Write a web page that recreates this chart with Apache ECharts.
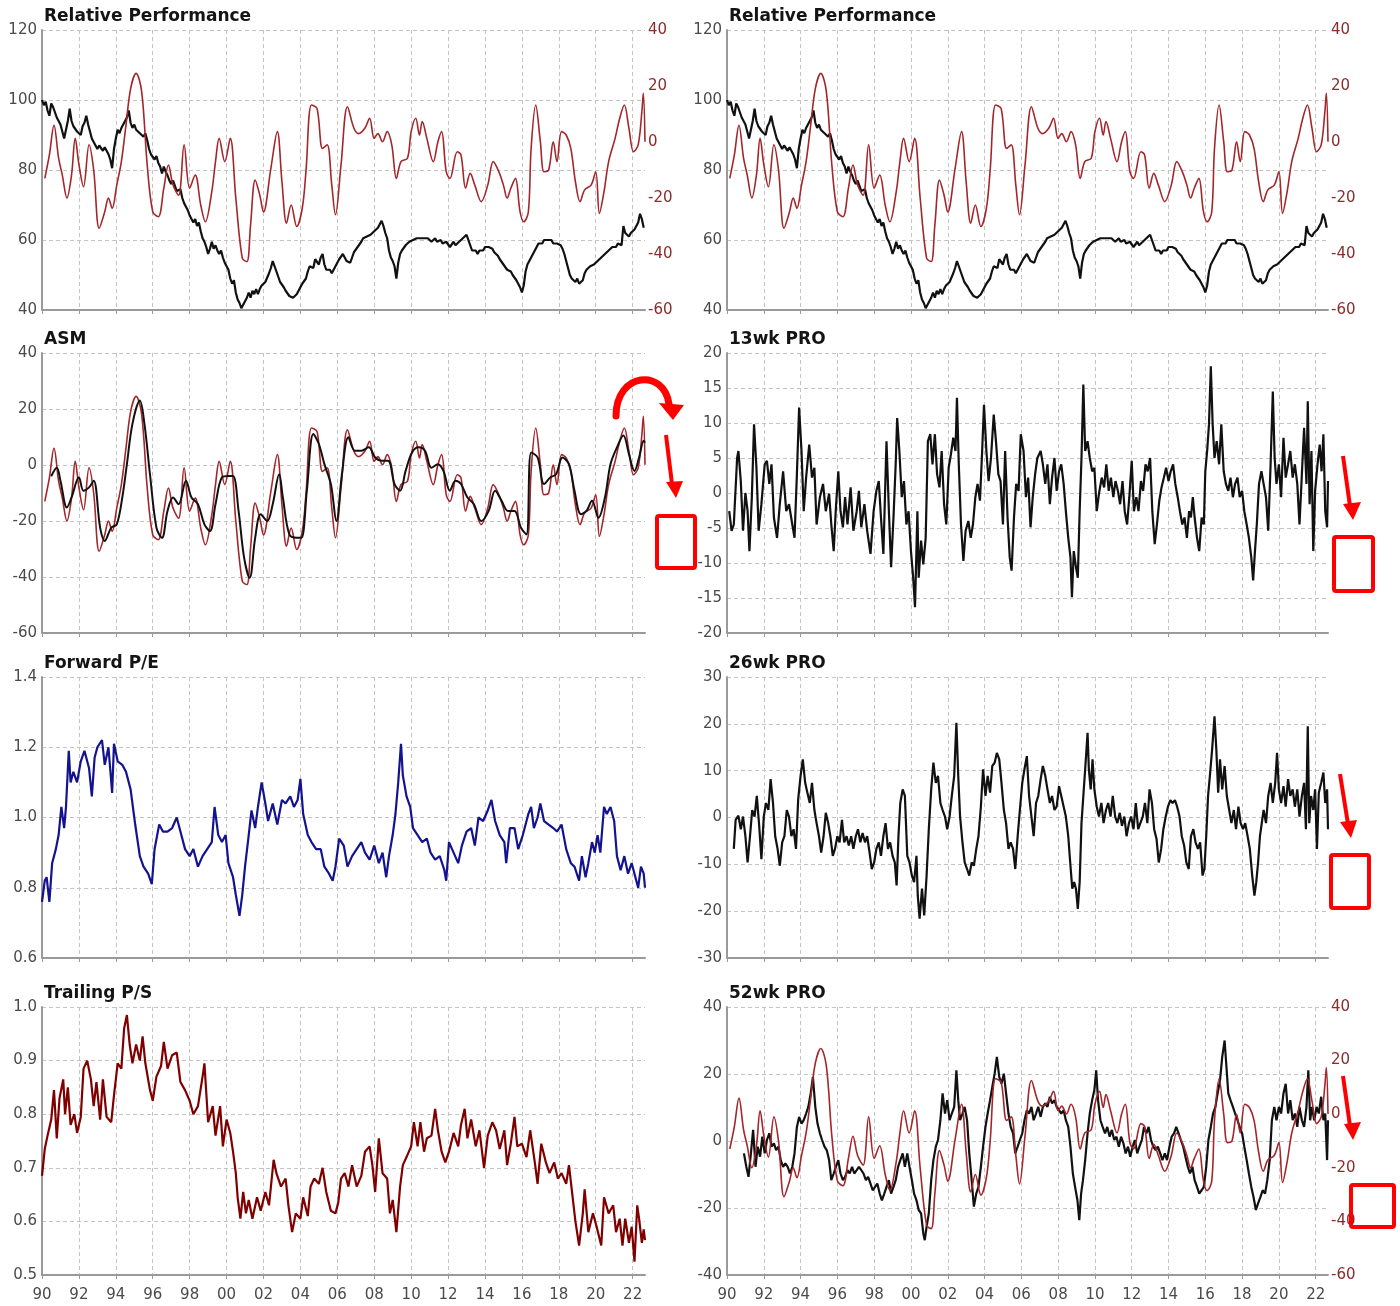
<!DOCTYPE html>
<html>
<head>
<meta charset="utf-8">
<title>Relative Performance dashboard</title>
<script src="https://cdn.jsdelivr.net/npm/echarts@6/dist/echarts.min.js"></script>
<style>
  html, body { margin: 0; padding: 0; background: #ffffff; }
  #chart { width: 1400px; height: 1306px; }
</style>
</head>
<body>
<div id="chart"></div>
<script>
// ---------------------------------------------------------------------------
// Time range and tick labels (decimal years)
// ---------------------------------------------------------------------------
const yearMin = 1990;
const yearMax = 2022.67;
const yearTicks = [1990, 1992, 1994, 1996, 1998, 2000, 2002, 2004, 2006, 2008,
                   2010, 2012, 2014, 2016, 2018, 2020, 2022];

const panelTitles = ['Relative Performance', 'Relative Performance', 'ASM', '13wk PRO',
                     'Forward P/E', '26wk PRO', 'Trailing P/S', '52wk PRO'];

// ---------------------------------------------------------------------------
// Relative performance index (weekly, sampled every 0.1 year from 1990.0)
// ---------------------------------------------------------------------------
const relPerfStart = 1990;
const relPerfStep = 0.1;
const relPerf = [
  100, 98.5, 99.5, 97, 95.5, 99, 98, 96.5, 95, 94,
  93, 91, 89, 88.5, 94, 97.5, 94, 92.5, 93, 91,
  91.5, 90, 92.5, 93.5, 95.5, 93, 91, 89, 88, 87.5,
  86, 87, 86.5, 85.5, 86.5, 85.5, 84.5, 83, 80.5, 86,
  89, 91.5, 90.5, 92, 91.5, 94, 95, 97, 93.5, 92,
  93, 91.5, 92, 90.5, 91, 89.5, 90.5, 88.5, 86, 84.5,
  85, 83, 84, 82, 81, 79, 81, 79.5, 78.5, 77,
  76, 77, 75.5, 74, 73.5, 74.5, 72, 70.5, 70, 68.5,
  67, 66, 65, 66, 64, 65, 62.5, 60.5, 59.5, 58,
  56, 57.5, 59.5, 57.5, 58.5, 57, 56, 57, 55, 53.5,
  52.5, 51.5, 49, 47.5, 48.5, 45, 43, 42, 40.5, 41.5,
  41, 43.5, 45, 43.5, 45.5, 44.5, 46, 44.5, 46, 47,
  46.5, 48, 48.5, 50.5, 52, 54, 52.5, 51, 49.5, 48,
  47.5, 46.5, 45.5, 45, 44, 43.5, 43.5, 44, 44.5, 45.5,
  46, 47.5, 48, 49, 51, 52.5, 53, 52, 54.5, 54,
  53, 55, 56, 53, 51.5, 51, 51.5, 50.5, 51, 52.5,
  53, 54.5, 55, 56, 55, 54, 54.5, 53.5, 55, 56.5,
  57, 58, 58.5, 59.5, 60.5, 60, 61, 60.5, 61.5, 62,
  62.5, 63, 63.5, 64.5, 65.5, 64, 62, 60.5, 57, 55,
  54, 52.5, 49, 53.5, 56, 57, 57.5, 58.5, 58, 59.5,
  59, 60, 59.5, 60.5, 60, 60.5, 60, 60.5, 60, 60.5,
  60, 59.5, 60, 60.5, 59.5, 59, 60, 59, 58.5, 59.5,
  59, 58, 58.5, 59.5, 58.5, 59, 59.5, 60, 60.5, 61,
  61.5, 60, 58.5, 57, 56.5, 57, 56, 57, 57.5, 57,
  58, 58.5, 58, 58.5, 57.5, 56.5, 56, 55.5, 54.5, 54,
  53, 52.5, 51.5, 52, 51, 50, 49.5, 48.5, 47.5, 46.5,
  45, 47, 51, 53, 53.5, 55, 55.5, 57, 58, 59,
  59.5, 59, 60, 59.5, 60, 59.5, 60, 59, 59.5, 59,
  59.5, 58.5, 57.5, 56, 54, 52, 50, 49, 48.5, 48,
  49, 47.5, 47, 48.5, 50.5, 51.5, 52, 52.5, 52, 53,
  53.5, 54, 54.5, 55, 55.5, 56, 56.5, 57, 57.5, 58,
  58.5, 58, 59, 59.5, 58.5, 64, 62, 61.5, 61, 62,
  62.5, 63, 63.5, 65, 67.5, 66, 63.5
];

// Relative performance momentum (red line, shared by several panels)
const relMomentum = [
  [1990.15,-13],[1990.4,-4.6],[1990.65,6],[1990.9,-5.8],[1991.1,-11.8],[1991.35,-20],
  [1991.6,-11.8],[1991.8,1.3],[1992.0,-8],[1992.25,-16],[1992.55,-1],[1992.8,-10],
  [1993.1,-30.8],[1993.4,-24.9],[1993.6,-20],[1993.8,-23.7],[1994.05,-15.4],[1994.3,-7],
  [1994.55,6],[1994.8,19],[1995.1,24.5],[1995.4,18],[1995.7,-8.2],[1996.0,-24.9],
  [1996.3,-26.7],[1996.6,-16.5],[1996.85,-8.2],[1997.1,-15.4],[1997.4,-19],[1997.7,-1],
  [1998.0,-16.5],[1998.3,-11.8],[1998.6,-22.5],[1998.85,-28.5],[1999.2,-17.7],[1999.4,-7],
  [1999.6,1.3],[1999.9,-7],[2000.2,1.3],[2000.5,-20],[2000.85,-41.5],[2001.1,-42.7],
  [2001.3,-29.6],[2001.55,-13.6],[2001.8,-19],[2002.0,-25],[2002.4,-9.4],[2002.75,3.7],
  [2003.0,-14.2],[2003.25,-29],[2003.5,-22.5],[2003.8,-30.2],[2004.1,-23.7],[2004.3,-10.6],
  [2004.6,13.2],[2004.9,12],[2005.2,-2.3],[2005.45,-1],[2005.7,-15.4],[2005.9,-26],
  [2006.2,-8.2],[2006.55,12.6],[2006.9,4.9],[2007.15,3],[2007.5,5],[2007.75,8.5],
  [2008.0,1.3],[2008.2,3],[2008.45,0.1],[2008.7,3.7],[2008.95,-1],[2009.2,-13],
  [2009.45,-7],[2009.8,-5.8],[2010.0,3.7],[2010.25,8.5],[2010.45,2.5],[2010.6,7.3],
  [2010.85,1.3],[2011.2,-7],[2011.45,0.1],[2011.65,3.7],[2011.9,-10.6],[2012.1,-13],
  [2012.5,-3.5],[2012.7,-4.6],[2012.95,-16.5],[2013.2,-11.2],[2013.45,-15.4],[2013.8,-21.3],
  [2014.15,-15.4],[2014.45,-7],[2014.75,-10.6],[2015.0,-15.4],[2015.2,-20],[2015.4,-16.5],
  [2015.65,-13],[2015.9,-24.9],[2016.1,-28.5],[2016.35,-25],[2016.5,-2.3],[2016.75,13.2],
  [2017.0,0.1],[2017.2,-10.6],[2017.45,-10],[2017.7,0.1],[2017.9,-7],[2018.15,3.7],
  [2018.4,2.5],[2018.65,-2.3],[2018.9,-14.2],[2019.15,-21.3],[2019.4,-17.1],[2019.75,-15.4],
  [2020.0,-10.6],[2020.2,-25.5],[2020.45,-17.7],[2020.7,-7],[2021.05,1.3],[2021.3,8.5],
  [2021.55,13.2],[2021.8,4.9],[2022.05,-3.5],[2022.3,-1],[2022.5,10.8],[2022.58,17.4],
  [2022.67,0.1]
];

// ASM (black, smoother)
const asm = [
  [1990.5,-4],[1990.8,-1],[1991.0,-5.6],[1991.35,-15.2],[1991.6,-11.6],[1992.0,-4.4],
  [1992.25,-9.2],[1992.55,-8],[1992.8,-5.6],[1993.15,-22.4],[1993.4,-27.1],[1993.75,-22.4],
  [1994.05,-21.2],[1994.35,-11.6],[1994.6,0.3],[1994.9,14.7],[1995.3,23],[1995.55,14.7],
  [1995.85,-3.3],[1996.2,-22.4],[1996.5,-26],[1996.8,-16.4],[1997.1,-11.6],[1997.4,-14],
  [1997.8,-5.6],[1998.1,-11.6],[1998.45,-14],[1998.8,-21.2],[1999.1,-23.6],[1999.4,-14],
  [1999.75,-4.4],[2000.1,-3.9],[2000.35,-3.9],[2000.65,-16.4],[2000.95,-33.1],[2001.25,-40.3],
  [2001.55,-26],[2001.85,-17.6],[2002.2,-20],[2002.5,-14],[2002.85,-3.3],[2003.05,-11.6],
  [2003.4,-24.8],[2003.8,-26],[2004.05,-26],[2004.35,-9.2],[2004.7,11.1],[2005.0,7.5],
  [2005.3,0.3],[2005.65,-6.8],[2005.95,-20],[2006.25,-3.3],[2006.6,9.9],[2006.95,5.1],
  [2007.3,5.1],[2007.7,6.3],[2008.05,2.7],[2008.4,1.5],[2008.75,1.5],[2009.1,-6.8],
  [2009.4,-9.2],[2009.7,-2.1],[2010.05,4.5],[2010.4,6.3],[2010.75,5.1],[2011.1,-1],
  [2011.45,0.3],[2011.75,-2.1],[2012.1,-9.2],[2012.4,-5.6],[2012.7,-6.8],[2013.05,-11.6],
  [2013.4,-14],[2013.8,-20],[2014.2,-16.4],[2014.55,-9.2],[2014.9,-12.8],[2015.25,-16.4],
  [2015.6,-16.4],[2015.95,-22.4],[2016.25,-24.8],[2016.5,4.5],[2016.85,2.7],[2017.2,-6.8],
  [2017.55,-4.4],[2017.85,-3.3],[2018.2,2.7],[2018.55,0.3],[2018.85,-9.2],[2019.2,-17.6],
  [2019.5,-16.4],[2019.8,-12.8],[2020.15,-18.8],[2020.5,-11.6],[2020.8,0.3],[2021.15,6.3],
  [2021.5,10.5],[2021.8,3.9],[2022.1,-2.1],[2022.35,2.7],[2022.6,8.7],[2022.67,8]
];

// Forward P/E (relative)
const forwardPE = [
  [1990.0,0.76],[1990.15,0.82],[1990.25,0.83],[1990.4,0.76],[1990.55,0.87],[1990.75,0.91],
  [1990.9,0.95],[1991.05,1.03],[1991.2,0.97],[1991.3,1.03],[1991.45,1.19],[1991.55,1.10],
  [1991.7,1.13],[1991.9,1.10],[1992.1,1.16],[1992.3,1.19],[1992.55,1.14],[1992.7,1.06],
  [1992.85,1.17],[1993.0,1.20],[1993.25,1.22],[1993.4,1.15],[1993.6,1.20],[1993.8,1.07],
  [1993.9,1.21],[1994.1,1.16],[1994.35,1.15],[1994.55,1.13],[1994.8,1.08],[1995.05,0.98],
  [1995.3,0.89],[1995.5,0.86],[1995.75,0.84],[1995.95,0.81],[1996.1,0.91],[1996.35,0.98],
  [1996.55,0.96],[1996.8,0.96],[1997.05,0.97],[1997.3,1.00],[1997.5,0.96],[1997.75,0.91],
  [1998.0,0.89],[1998.2,0.91],[1998.45,0.86],[1998.7,0.89],[1998.95,0.91],[1999.2,0.93],
  [1999.35,1.03],[1999.55,0.95],[1999.75,0.93],[1999.95,0.95],[2000.1,0.87],[2000.35,0.83],
  [2000.5,0.78],[2000.7,0.72],[2000.85,0.78],[2001.0,0.86],[2001.2,0.95],[2001.35,1.02],
  [2001.55,0.97],[2001.7,1.03],[2001.9,1.10],[2002.1,1.04],[2002.25,0.99],[2002.5,1.04],
  [2002.75,0.98],[2003.0,1.05],[2003.2,1.04],[2003.45,1.06],[2003.65,1.03],[2003.85,1.05],
  [2004.0,1.11],[2004.15,1.01],[2004.4,0.95],[2004.6,0.93],[2004.85,0.91],[2005.1,0.91],
  [2005.3,0.86],[2005.55,0.84],[2005.75,0.82],[2005.9,0.86],[2006.1,0.94],[2006.35,0.92],
  [2006.55,0.86],[2006.8,0.89],[2007.05,0.91],[2007.3,0.93],[2007.5,0.90],[2007.75,0.88],
  [2008.0,0.92],[2008.25,0.87],[2008.45,0.90],[2008.65,0.83],[2008.8,0.89],[2009.0,0.95],
  [2009.15,1.01],[2009.3,1.10],[2009.45,1.21],[2009.55,1.12],[2009.75,1.06],[2009.95,1.03],
  [2010.1,0.97],[2010.35,0.95],[2010.6,0.93],[2010.85,0.94],[2011.05,0.90],[2011.3,0.88],
  [2011.55,0.89],[2011.8,0.85],[2011.9,0.82],[2012.05,0.93],[2012.3,0.90],[2012.55,0.87],
  [2012.75,0.92],[2013.0,0.96],[2013.25,0.97],[2013.45,0.92],[2013.65,1.00],[2013.9,0.99],
  [2014.15,1.02],[2014.35,1.05],[2014.55,0.99],[2014.8,0.95],[2015.05,0.93],[2015.15,0.87],
  [2015.35,0.97],[2015.6,0.97],[2015.8,0.91],[2016.05,0.95],[2016.35,1.01],[2016.5,1.03],
  [2016.65,0.97],[2016.85,1.00],[2017.0,1.04],[2017.2,0.99],[2017.45,0.98],[2017.7,0.97],
  [2017.9,0.96],[2018.15,0.98],[2018.4,0.91],[2018.65,0.87],[2018.85,0.86],[2019.1,0.82],
  [2019.25,0.89],[2019.45,0.83],[2019.6,0.87],[2019.8,0.93],[2019.95,0.90],[2020.1,0.95],
  [2020.25,0.90],[2020.45,1.03],[2020.6,1.01],[2020.8,1.03],[2021.0,0.99],[2021.15,0.89],
  [2021.35,0.85],[2021.55,0.89],[2021.75,0.84],[2021.95,0.87],[2022.15,0.83],[2022.3,0.80],
  [2022.45,0.86],[2022.6,0.84],[2022.67,0.80]
];

// Trailing P/S (relative)
const trailingPS = [
  [1990.0,0.685],[1990.15,0.735],[1990.3,0.76],[1990.5,0.79],[1990.65,0.845],[1990.8,0.755],
  [1990.95,0.83],[1991.15,0.865],[1991.25,0.80],[1991.4,0.85],[1991.55,0.78],[1991.75,0.80],
  [1991.9,0.765],[1992.1,0.795],[1992.25,0.885],[1992.45,0.90],[1992.65,0.865],[1992.8,0.815],
  [1992.95,0.86],[1993.15,0.79],[1993.3,0.865],[1993.5,0.795],[1993.75,0.785],[1993.9,0.835],
  [1994.1,0.895],[1994.3,0.885],[1994.45,0.96],[1994.6,0.985],[1994.75,0.93],[1994.9,0.895],
  [1995.1,0.93],[1995.3,0.90],[1995.45,0.945],[1995.6,0.895],[1995.85,0.845],[1996.0,0.825],
  [1996.2,0.87],[1996.45,0.89],[1996.6,0.935],[1996.8,0.885],[1997.05,0.91],[1997.3,0.915],
  [1997.5,0.86],[1997.75,0.845],[1998.0,0.825],[1998.2,0.80],[1998.45,0.815],[1998.7,0.87],
  [1998.8,0.895],[1999.0,0.785],[1999.25,0.815],[1999.4,0.76],[1999.65,0.815],[1999.8,0.74],
  [2000.0,0.79],[2000.2,0.765],[2000.35,0.73],[2000.5,0.69],[2000.6,0.645],[2000.75,0.605],
  [2000.9,0.655],[2001.05,0.615],[2001.2,0.64],[2001.4,0.605],[2001.65,0.645],[2001.85,0.62],
  [2002.1,0.655],[2002.3,0.63],[2002.55,0.715],[2002.7,0.69],[2002.95,0.665],[2003.2,0.68],
  [2003.35,0.63],[2003.55,0.58],[2003.75,0.615],[2004.0,0.605],[2004.15,0.645],[2004.4,0.61],
  [2004.55,0.665],[2004.75,0.68],[2005.0,0.67],[2005.2,0.70],[2005.4,0.655],[2005.65,0.62],
  [2005.9,0.615],[2006.05,0.635],[2006.2,0.68],[2006.4,0.69],[2006.6,0.665],[2006.8,0.705],
  [2007.05,0.665],[2007.3,0.685],[2007.5,0.73],[2007.75,0.74],[2007.9,0.705],[2008.05,0.655],
  [2008.25,0.755],[2008.45,0.69],[2008.7,0.68],[2008.85,0.615],[2009.0,0.64],[2009.2,0.58],
  [2009.4,0.665],[2009.55,0.705],[2009.75,0.72],[2010.0,0.74],[2010.15,0.785],[2010.35,0.74],
  [2010.5,0.785],[2010.7,0.73],[2010.85,0.755],[2011.1,0.76],[2011.3,0.81],[2011.45,0.77],
  [2011.65,0.73],[2011.85,0.71],[2012.05,0.73],[2012.3,0.765],[2012.55,0.74],[2012.7,0.78],
  [2012.9,0.81],[2013.05,0.755],[2013.25,0.79],[2013.5,0.74],[2013.7,0.77],[2013.95,0.70],
  [2014.15,0.76],[2014.4,0.785],[2014.6,0.77],[2014.8,0.735],[2015.05,0.77],[2015.2,0.705],
  [2015.4,0.745],[2015.6,0.795],[2015.75,0.74],[2016.0,0.745],[2016.25,0.72],[2016.45,0.77],
  [2016.7,0.71],[2016.85,0.67],[2017.05,0.745],[2017.3,0.71],[2017.5,0.69],[2017.75,0.71],
  [2017.95,0.68],[2018.15,0.69],[2018.4,0.67],[2018.55,0.705],[2018.75,0.645],[2018.9,0.60],
  [2019.1,0.555],[2019.3,0.615],[2019.4,0.66],[2019.6,0.58],[2019.85,0.615],[2020.05,0.59],
  [2020.3,0.555],[2020.45,0.645],[2020.7,0.615],[2020.95,0.63],[2021.1,0.58],[2021.3,0.605],
  [2021.45,0.555],[2021.6,0.605],[2021.8,0.56],[2021.95,0.59],[2022.1,0.525],[2022.25,0.63],
  [2022.35,0.605],[2022.5,0.56],[2022.6,0.585],[2022.67,0.565]
];

// 13-week PRO
const pro13 = [
  [1990.12,-2.6],[1990.25,-5.4],[1990.37,-4.5],[1990.55,5],[1990.62,6],[1990.75,1.7],[1990.87,-5.4],
  [1991.0,0],[1991.12,-2.6],[1991.22,-8.3],[1991.35,-0.6],[1991.47,9.8],[1991.6,3.6],[1991.72,-5.4],
  [1991.87,-1.6],[1992.05,4.1],[1992.17,4.6],[1992.3,1.3],[1992.42,4.1],[1992.55,-3.5],[1992.72,-6.4],
  [1992.87,-1.6],[1993.05,3.1],[1993.22,-2.6],[1993.37,-1.6],[1993.55,-4.5],[1993.67,-6.4],[1993.8,2.7],
  [1993.92,12.2],[1994.05,6],[1994.17,-2.6],[1994.3,2.2],[1994.47,6.9],[1994.62,2.2],[1994.75,3.6],
  [1994.87,-4.5],[1995.05,-0.6],[1995.22,1.3],[1995.37,-2.6],[1995.55,-0.1],[1995.67,-4.5],[1995.8,-8.3],
  [1995.92,-2.1],[1996.05,3.1],[1996.17,-2.6],[1996.3,-4.9],[1996.42,-0.6],[1996.55,-4.5],[1996.72,0.8],
  [1996.87,-5.4],[1997.05,-2.6],[1997.17,0.3],[1997.3,-4.9],[1997.47,-1.6],[1997.62,-5.4],[1997.8,-8.7],
  [1997.97,-2.6],[1998.12,0.3],[1998.25,1.7],[1998.37,-3.5],[1998.5,-8.7],[1998.67,7.4],[1998.8,-2.6],
  [1998.92,-10.6],[1999.05,-3.5],[1999.17,4.1],[1999.25,10.7],[1999.37,6],[1999.5,-0.6],[1999.62,1.7],
  [1999.75,-4.5],[1999.87,-2.6],[2000.0,-8.3],[2000.12,-12.1],[2000.22,-16.3],[2000.35,-2.6],[2000.42,-12.1],
  [2000.55,-6.8],[2000.67,-10.2],[2000.8,-6.4],[2000.92,7.4],[2001.05,8.4],[2001.17,4.1],[2001.3,8.4],
  [2001.42,2.7],[2001.55,0.8],[2001.67,6],[2001.8,-1.6],[2001.92,-4.5],[2002.05,3.6],[2002.17,5.5],
  [2002.3,7.9],[2002.42,6],[2002.5,13.6],[2002.6,4.1],[2002.72,-4.5],[2002.85,-9.7],[2002.97,-5.4],
  [2003.12,-4],[2003.25,-6.4],[2003.37,-4.5],[2003.5,-0.6],[2003.62,1.3],[2003.75,-1.1],[2003.87,6],
  [2003.97,12.6],[2004.1,6],[2004.22,1.7],[2004.35,5],[2004.5,11.2],[2004.62,7.4],[2004.75,2.7],
  [2004.87,1.7],[2005.0,-4.5],[2005.12,6],[2005.25,-3.5],[2005.37,-9.2],[2005.47,-11.1],[2005.6,-3.5],
  [2005.72,1.3],[2005.85,0.3],[2005.97,8.4],[2006.12,6],[2006.25,-0.6],[2006.37,2.2],[2006.5,-4.9],
  [2006.62,-0.6],[2006.75,2.7],[2006.87,5],[2007.05,6],[2007.17,4.1],[2007.3,1.3],[2007.42,4.1],
  [2007.55,-1.6],[2007.67,2.2],[2007.8,5],[2007.92,0.3],[2008.05,3.1],[2008.17,4.1],[2008.3,1.3],
  [2008.42,-2.6],[2008.55,-6.4],[2008.67,-9.2],[2008.75,-14.9],[2008.85,-8.3],[2008.97,-10.6],[2009.07,-12.1],
  [2009.17,-2.6],[2009.27,5],[2009.37,15.5],[2009.47,6],[2009.6,7.4],[2009.72,5],[2009.85,3.1],
  [2009.97,3.6],[2010.1,-2.6],[2010.22,-0.1],[2010.37,2.2],[2010.5,0.8],[2010.62,4.1],[2010.75,0.3],
  [2010.87,2.2],[2011.0,-0.6],[2011.12,1.7],[2011.25,0.3],[2011.37,-1.6],[2011.5,1.7],[2011.62,-2.6],
  [2011.75,-4.5],[2011.87,-0.6],[2012.0,4.6],[2012.12,-2.6],[2012.25,-0.6],[2012.37,-2.6],[2012.5,1.7],
  [2012.62,0.3],[2012.75,4.1],[2012.87,3.1],[2013.0,5],[2013.12,-2.6],[2013.25,-7.3],[2013.37,-4.5],
  [2013.5,-1.1],[2013.62,0.8],[2013.75,2.2],[2013.87,3.6],[2014.0,1.7],[2014.12,3.1],[2014.25,4.1],
  [2014.37,1.3],[2014.5,-0.6],[2014.62,-2.6],[2014.75,-4.5],[2014.87,-3.5],[2015.0,-6.4],[2015.12,-2.6],
  [2015.22,-3.5],[2015.32,-0.6],[2015.42,-3.5],[2015.55,-6.4],[2015.67,-8.3],[2015.8,-3.5],[2015.92,-4.5],
  [2016.0,3.1],[2016.1,6],[2016.2,9.8],[2016.3,18.1],[2016.4,9.8],[2016.5,5],[2016.62,7.4],
  [2016.75,4.1],[2016.87,9.8],[2017.0,3.1],[2017.12,1.3],[2017.25,0.3],[2017.37,2.2],[2017.5,-0.6],
  [2017.62,1.3],[2017.75,2.2],[2017.87,-0.6],[2018.0,0.3],[2018.12,-2.6],[2018.25,-4.5],[2018.37,-6.4],
  [2018.5,-9.2],[2018.6,-12.5],[2018.7,-8.3],[2018.8,-4.5],[2018.92,1.3],[2019.05,3.1],[2019.17,1.3],
  [2019.3,-0.6],[2019.42,-5.4],[2019.55,4.1],[2019.67,14.5],[2019.77,5],[2019.87,1.3],[2020.0,4.1],
  [2020.12,-0.6],[2020.25,7.9],[2020.37,2.2],[2020.5,4.1],[2020.62,6],[2020.75,2.2],[2020.87,4.1],
  [2021.0,1.3],[2021.12,-4.5],[2021.25,2.7],[2021.37,9.3],[2021.5,1.3],[2021.57,13.1],[2021.67,-1.6],
  [2021.77,6],[2021.87,-8.3],[2021.97,0.3],[2022.1,4.1],[2022.22,6.9],[2022.32,3.1],[2022.42,8.4],
  [2022.52,-2.6],[2022.62,-4.9],[2022.67,1.7]
];

// 26-week PRO
const pro26 = [
  [1990.37,-6.7],[1990.47,-0.5],[1990.62,0.4],[1990.75,-2.5],[1990.87,0.2],[1991.0,-4],[1991.12,-9.6],
  [1991.25,-4],[1991.37,1.6],[1991.5,0.2],[1991.62,4.6],[1991.75,-1.8],[1991.87,-8.9],[1992.0,0.2],
  [1992.12,3.1],[1992.25,1.6],[1992.37,8.2],[1992.5,3.1],[1992.62,-4],[1992.75,-6.7],[1992.87,-10.3],
  [1993.0,-5.3],[1993.12,-4],[1993.25,1.6],[1993.37,0.2],[1993.5,-4],[1993.62,-2.5],[1993.75,-6.7],
  [1993.87,3.9],[1994.0,8.9],[1994.12,12.4],[1994.25,7.4],[1994.37,5.3],[1994.5,3.1],[1994.62,7.4],
  [1994.75,1.6],[1994.87,-1.2],[1995.0,-4],[1995.12,-7.5],[1995.25,-4],[1995.37,1],[1995.5,-1.2],
  [1995.62,-4],[1995.75,-8.2],[1995.87,-6.7],[1996.0,-4],[1996.12,-5.3],[1996.25,-0.5],[1996.37,-5.3],
  [1996.5,-4],[1996.62,-6],[1996.75,-4],[1996.87,-6.7],[1997.0,-4],[1997.12,-2.5],[1997.25,-5.3],
  [1997.37,-3.3],[1997.5,-5.3],[1997.62,-4],[1997.75,-7.5],[1997.87,-11],[1998.0,-9.6],[1998.12,-6.7],
  [1998.25,-5.3],[1998.37,-8.2],[1998.5,-4],[1998.62,-1.2],[1998.75,-6.7],[1998.87,-5.3],[1999.0,-8.2],
  [1999.12,-9.6],[1999.22,-14.5],[1999.32,-4],[1999.42,3.1],[1999.55,6],[1999.67,4.6],[1999.8,-8.2],
  [1999.92,-9.6],[2000.05,-12.4],[2000.17,-13.8],[2000.3,-8.2],[2000.37,-16.7],[2000.47,-21.6],[2000.6,-15.2],
  [2000.72,-20.9],[2000.85,-12.4],[2000.97,-2.5],[2001.1,6],[2001.22,11.7],[2001.35,7.4],[2001.47,8.9],
  [2001.6,3.1],[2001.72,1.6],[2001.85,0.2],[2001.97,-2.5],[2002.1,0.2],[2002.22,4.6],[2002.35,8.9],
  [2002.47,20.2],[2002.57,8.9],[2002.67,0.2],[2002.8,-5.3],[2002.92,-9.6],[2003.05,-11],[2003.17,-12.4],
  [2003.3,-9.6],[2003.42,-10.3],[2003.55,-6.7],[2003.67,-4],[2003.8,2.3],[2003.92,10.3],[2004.05,4.6],
  [2004.17,8.9],[2004.3,5.3],[2004.42,11],[2004.55,11.7],[2004.67,13.8],[2004.8,12.4],[2004.92,7.4],
  [2005.05,1.6],[2005.17,-1.2],[2005.3,-6.7],[2005.42,-5.3],[2005.55,-6.7],[2005.67,-11],[2005.8,-4],
  [2005.92,1.6],[2006.05,7.4],[2006.17,10.3],[2006.3,13.1],[2006.42,4.6],[2006.55,0.2],[2006.67,-4],
  [2006.8,3.1],[2006.92,4.6],[2007.05,8.2],[2007.17,11],[2007.3,8.9],[2007.42,6],[2007.55,3.1],
  [2007.67,4.6],[2007.8,1.6],[2007.92,2.3],[2008.05,6.7],[2008.17,4.6],[2008.3,2.3],[2008.42,0.2],
  [2008.55,-4],[2008.67,-10.3],[2008.77,-15.2],[2008.87,-13.8],[2008.97,-15.2],[2009.07,-19.5],[2009.17,-13.8],
  [2009.27,-1.2],[2009.37,4.6],[2009.47,10.3],[2009.6,18.1],[2009.67,10.3],[2009.77,6],[2009.87,12.4],
  [2009.97,6],[2010.1,2.3],[2010.22,0.2],[2010.35,3.1],[2010.47,-1.2],[2010.6,1.6],[2010.72,3.1],
  [2010.85,0.2],[2010.97,4.6],[2011.1,0.2],[2011.22,-1.2],[2011.35,1],[2011.47,-1.8],[2011.6,0.2],
  [2011.72,-4],[2011.85,-1.2],[2011.97,0.2],[2012.1,-2.5],[2012.22,3.1],[2012.35,-2.5],[2012.47,-1.2],
  [2012.6,0.2],[2012.72,3.1],[2012.85,-1.2],[2012.97,6],[2013.1,3.1],[2013.22,-2.5],[2013.35,-4.6],
  [2013.47,-9.6],[2013.6,-6.7],[2013.72,-2.5],[2013.85,0.2],[2013.97,2.3],[2014.1,3.7],[2014.22,3.1],
  [2014.35,3.7],[2014.47,2.3],[2014.6,0.2],[2014.72,-4],[2014.85,-6],[2014.97,-9.6],[2015.1,-11],
  [2015.22,-4],[2015.35,-2.5],[2015.47,-5.3],[2015.6,-6.7],[2015.72,-5.3],[2015.85,-12.4],[2015.95,-11],
  [2016.05,-4],[2016.15,4.6],[2016.25,8.9],[2016.37,14.5],[2016.5,21.6],[2016.6,14.5],[2016.7,5.3],
  [2016.8,12.4],[2016.92,6],[2017.05,11],[2017.17,4.6],[2017.3,1.6],[2017.42,-1.2],[2017.55,1.6],
  [2017.67,-2.5],[2017.8,2.3],[2017.92,-1.2],[2018.05,-2.5],[2018.17,-1.2],[2018.3,-4],[2018.42,-6.7],
  [2018.55,-12.4],[2018.67,-16.7],[2018.77,-13.8],[2018.87,-9.6],[2018.97,-4],[2019.07,-1.2],[2019.17,1.6],
  [2019.3,-1.2],[2019.42,4.6],[2019.55,7.4],[2019.67,3.1],[2019.8,7.4],[2019.9,13.8],[2020.0,6],
  [2020.12,3.1],[2020.25,6.7],[2020.37,2.3],[2020.5,8.2],[2020.62,4.6],[2020.75,6],[2020.87,2.3],
  [2021.0,6],[2021.12,0.2],[2021.25,4.6],[2021.37,7.4],[2021.47,-2.5],[2021.57,19.5],[2021.65,-1.2],
  [2021.75,4.6],[2021.87,1.6],[2021.97,6],[2022.07,-6.7],[2022.17,5.3],[2022.3,7.4],[2022.42,9.6],
  [2022.52,3.1],[2022.62,6],[2022.67,-2.5]
];

// 52-week PRO
const pro52 = [
  [1990.92,-3.7],[1991.05,-7.7],[1991.17,-10.7],[1991.3,-3.7],[1991.42,3.3],[1991.55,-7.7],[1991.67,-1.7],
  [1991.8,-4.7],[1991.92,1.3],[1992.05,-3.7],[1992.17,0.3],[1992.3,2.3],[1992.42,-1.7],[1992.55,-0.7],
  [1992.67,-2.7],[1992.8,-1.7],[1992.92,-5.7],[1993.05,-7.7],[1993.17,-6.7],[1993.3,-7.7],[1993.42,-9.7],
  [1993.55,-7.7],[1993.67,-3.7],[1993.8,4.2],[1993.92,7.2],[1994.05,5.2],[1994.17,6.2],[1994.3,8.2],
  [1994.42,10.2],[1994.55,14.2],[1994.67,19.1],[1994.8,10.2],[1994.92,5.2],[1995.05,2.3],[1995.17,0.3],
  [1995.3,-1.7],[1995.42,-2.7],[1995.55,-5.7],[1995.67,-11.7],[1995.8,-9.7],[1995.92,-7.7],[1996.05,-5.7],
  [1996.17,-9.7],[1996.3,-11.7],[1996.42,-10.7],[1996.55,-8.7],[1996.67,-9.7],[1996.8,-7.7],[1996.92,-9.7],
  [1997.05,-8.7],[1997.17,-7.7],[1997.3,-8.7],[1997.42,-9.7],[1997.55,-11.7],[1997.67,-10.7],[1997.8,-12.7],
  [1997.92,-14.7],[1998.05,-13.7],[1998.17,-12.7],[1998.3,-15.7],[1998.42,-17.7],[1998.55,-15.7],[1998.67,-13.7],
  [1998.8,-11.7],[1998.92,-15.7],[1999.05,-13.7],[1999.17,-11.7],[1999.3,-7.7],[1999.42,-5.7],[1999.55,-3.7],
  [1999.67,-7.7],[1999.8,-3.7],[1999.92,-7.7],[2000.05,-11.7],[2000.17,-15.7],[2000.3,-17.7],[2000.42,-20.6],
  [2000.55,-21.6],[2000.67,-27.6],[2000.75,-29.6],[2000.85,-25.6],[2000.97,-21.6],[2001.1,-11.7],[2001.22,-5.7],
  [2001.35,-1.7],[2001.47,0.3],[2001.6,6.2],[2001.72,14.2],[2001.85,8.2],[2001.97,12.2],[2002.1,6.2],
  [2002.22,8.2],[2002.35,10.2],[2002.47,21.1],[2002.57,12.2],[2002.67,6.2],[2002.8,8.2],[2002.92,10.2],
  [2003.05,6.2],[2003.17,-3.7],[2003.3,-11.7],[2003.42,-19.6],[2003.55,-15.7],[2003.67,-13.7],[2003.8,-7.7],
  [2003.92,-1.7],[2004.05,4.2],[2004.17,8.2],[2004.3,12.2],[2004.42,16.1],[2004.55,20.1],[2004.67,25.1],
  [2004.8,19.1],[2004.92,17.1],[2005.05,20.1],[2005.17,14.2],[2005.3,8.2],[2005.42,4.2],[2005.55,2.3],
  [2005.67,-3.7],[2005.8,-1.7],[2005.92,0.3],[2006.05,2.3],[2006.17,6.2],[2006.3,9.2],[2006.42,8.2],
  [2006.55,10.2],[2006.67,6.2],[2006.8,8.2],[2006.92,10.2],[2007.05,7.2],[2007.17,10.2],[2007.3,11.2],
  [2007.42,10.2],[2007.55,13.2],[2007.67,11.2],[2007.8,12.2],[2007.92,10.2],[2008.05,9.2],[2008.17,8.2],
  [2008.3,9.2],[2008.42,6.2],[2008.55,4.2],[2008.67,-1.7],[2008.8,-9.7],[2008.92,-13.7],[2009.05,-17.7],
  [2009.15,-23.6],[2009.25,-15.7],[2009.35,-11.7],[2009.47,-5.7],[2009.6,2.3],[2009.72,8.2],[2009.85,12.2],
  [2009.97,15.2],[2010.07,21.1],[2010.17,12.2],[2010.3,6.2],[2010.42,4.2],[2010.55,2.3],[2010.67,4.2],
  [2010.8,1.3],[2010.92,3.3],[2011.05,0.3],[2011.17,1.3],[2011.3,-1.7],[2011.42,1.3],[2011.55,-0.7],
  [2011.67,-3.7],[2011.8,-1.7],[2011.92,-4.7],[2012.05,-1.7],[2012.17,0.3],[2012.3,-3.7],[2012.42,-1.7],
  [2012.55,0.3],[2012.67,4.2],[2012.8,2.3],[2012.92,4.2],[2013.05,0.3],[2013.17,-1.7],[2013.3,-2.7],
  [2013.42,-1.7],[2013.55,-3.7],[2013.67,-5.7],[2013.8,-3.7],[2013.92,-5.7],[2014.05,-1.7],[2014.17,1.3],
  [2014.3,2.3],[2014.42,4.2],[2014.55,2.3],[2014.67,0.3],[2014.8,-1.7],[2014.92,-4.7],[2015.05,-7.7],
  [2015.17,-9.7],[2015.3,-7.7],[2015.42,-11.7],[2015.55,-13.7],[2015.67,-15.7],[2015.8,-14.7],[2015.92,-13.7],
  [2016.05,-7.7],[2016.17,0.3],[2016.3,4.2],[2016.42,8.2],[2016.55,10.2],[2016.67,14.2],[2016.8,18.1],
  [2016.92,25.1],[2017.05,30],[2017.15,22.1],[2017.25,14.2],[2017.37,12.2],[2017.5,10.2],[2017.62,8.2],
  [2017.75,6.2],[2017.87,4.2],[2018.0,2.3],[2018.12,-1.7],[2018.25,-5.7],[2018.37,-9.7],[2018.5,-13.7],
  [2018.62,-16.7],[2018.75,-20.6],[2018.87,-18.6],[2019.0,-16.7],[2019.12,-14.7],[2019.25,-15.7],[2019.37,-11.7],
  [2019.5,-5.7],[2019.62,6.2],[2019.75,10.2],[2019.87,6.2],[2020.0,10.2],[2020.12,8.2],[2020.25,14.2],
  [2020.37,17.1],[2020.5,8.2],[2020.62,12.2],[2020.75,6.2],[2020.87,8.2],[2021.0,4.2],[2021.12,10.2],
  [2021.25,6.2],[2021.37,4.2],[2021.5,10.2],[2021.6,21.1],[2021.7,6.2],[2021.8,10.2],[2021.92,6.2],
  [2022.05,10.2],[2022.17,8.2],[2022.3,13.2],[2022.42,6.2],[2022.52,8.2],[2022.62,-5.7],[2022.67,6.2]
];

// ---------------------------------------------------------------------------
// Build the chart
// ---------------------------------------------------------------------------
const FONT = '"DejaVu Sans", "Noto Sans", sans-serif';
const LABEL_GREY = '#4a4a4a';
const LABEL_MAROON = '#8b2b2b';
const RED_LINE = '#a3262b';
const GRID_LINE = '#c4c4c4';
const AXIS_LINE = '#9a9a9a';

const relPerfPairs = relPerf.map((v, i) => [Math.round((relPerfStart + i * relPerfStep) * 100) / 100, v]);

// panel rectangles
const COL_L = { left: 42, width: 603 };
const COL_R = { left: 727, width: 601 };
const ROWS = [
  { top: 30, height: 280 },
  { top: 353, height: 280 },
  { top: 677, height: 281 },
  { top: 1007, height: 268 }
];

const grids = [];
for (let r = 0; r < 4; r++) {
  grids.push({ left: COL_L.left, width: COL_L.width, top: ROWS[r].top, height: ROWS[r].height });
  grids.push({ left: COL_R.left, width: COL_R.width, top: ROWS[r].top, height: ROWS[r].height });
}

const xAxes = grids.map((g, i) => ({
  type: 'value',
  gridIndex: i,
  min: yearMin,
  max: yearMax,
  interval: 2,
  axisLine: { show: true, onZero: false, lineStyle: { color: AXIS_LINE, width: 2 } },
  axisTick: { show: true, length: 4, customValues: yearTicks, lineStyle: { color: AXIS_LINE } },
  splitLine: { show: true, lineStyle: { color: GRID_LINE, type: [4, 3], width: 1 } },
  axisLabel: {
    show: i >= 6,
    customValues: yearTicks,
    margin: 13,
    color: LABEL_GREY,
    fontFamily: FONT,
    fontSize: 15,
    formatter: v => String(Math.round(v) % 100).padStart(2, '0')
  }
}));

function leftAxis(gridIndex, min, max, interval, decimals) {
  return {
    type: 'value',
    gridIndex,
    position: 'left',
    min, max, interval,
    axisLine: { show: true, onZero: false, lineStyle: { color: AXIS_LINE, width: 2 } },
    axisTick: { show: false },
    splitLine: { show: true, lineStyle: { color: GRID_LINE, type: [4, 3], width: 1 } },
    axisLabel: {
      margin: 5,
      color: LABEL_GREY,
      fontFamily: FONT,
      fontSize: 15,
      formatter: v => decimals ? v.toFixed(decimals) : String(Math.round(v))
    }
  };
}

function rightAxis(gridIndex, min, max, interval) {
  return {
    type: 'value',
    gridIndex,
    position: 'right',
    min, max, interval,
    axisLine: { show: false, onZero: false },
    axisTick: { show: false },
    splitLine: { show: false },
    axisLabel: {
      margin: 3,
      color: LABEL_MAROON,
      fontFamily: FONT,
      fontSize: 15,
      formatter: v => String(Math.round(v))
    }
  };
}

const yAxes = [
  leftAxis(0, 40, 120, 20, 0),        // 0 relative performance (left col)
  leftAxis(1, 40, 120, 20, 0),        // 1 relative performance (right col)
  leftAxis(2, -60, 40, 20, 0),        // 2 ASM
  leftAxis(3, -20, 20, 5, 0),         // 3 13wk PRO
  leftAxis(4, 0.6, 1.4, 0.2, 1),      // 4 Forward P/E
  leftAxis(5, -30, 30, 10, 0),        // 5 26wk PRO
  leftAxis(6, 0.5, 1.0, 0.1, 1),      // 6 Trailing P/S
  leftAxis(7, -40, 40, 20, 0),        // 7 52wk PRO
  rightAxis(0, -60, 40, 20),          // 8 momentum, row 1 left
  rightAxis(1, -60, 40, 20),          // 9 momentum, row 1 right
  rightAxis(7, -60, 40, 20)           // 10 momentum, row 4 right
];

function line(name, data, xi, yi, color, width, smooth) {
  return {
    name, type: 'line', data,
    xAxisIndex: xi, yAxisIndex: yi,
    showSymbol: false, symbol: 'none',
    smooth: smooth || false,
    lineStyle: { color, width },
    emphasis: { disabled: true },
    z: 3
  };
}

const series = [
  line('Relative Performance', relPerfPairs, 0, 0, '#111111', 2.2),
  line('Momentum', relMomentum, 0, 8, RED_LINE, 1.6, 0.35),
  line('Relative Performance', relPerfPairs, 1, 1, '#111111', 2.2),
  line('Momentum', relMomentum, 1, 9, RED_LINE, 1.6, 0.35),
  line('ASM fast', relMomentum, 2, 2, RED_LINE, 1.6, 0.35),
  line('ASM', asm, 2, 2, '#111111', 2, 0.35),
  line('13wk PRO', pro13, 3, 3, '#111111', 2.2),
  line('Forward P/E', forwardPE, 4, 4, '#131390', 2.2),
  line('26wk PRO', pro26, 5, 5, '#111111', 2.2),
  line('Trailing P/S', trailingPS, 6, 6, '#800000', 2.2),
  line('52wk PRO', pro52, 7, 7, '#111111', 2.2),
  line('Momentum', relMomentum, 7, 10, RED_LINE, 1.6, 0.35)
];

// Panel titles
const titleGraphics = panelTitles.map((t, i) => ({
  type: 'text',
  x: (i % 2 === 0 ? COL_L.left : COL_R.left) + 2,
  y: ROWS[Math.floor(i / 2)].top - 13,
  style: {
    text: t,
    font: 'bold 17px ' + FONT,
    fill: '#141414',
    verticalAlign: 'middle',
    align: 'left'
  },
  z: 10
}));

// Red call-out marks drawn over the chart
const RED = '#ff0000';
function arrow(x1, y1, x2, y2, tip, b1, b2) {
  return [
    { type: 'polyline', shape: { points: [[x1, y1], [x2, y2]] },
      style: { stroke: RED, lineWidth: 4, fill: null }, z: 20 },
    { type: 'polygon', shape: { points: [tip, b1, b2] },
      style: { fill: RED, stroke: null }, z: 20 }
  ];
}
function box(x, y, w, h) {
  return { type: 'rect', shape: { x, y, width: w, height: h, r: 2 },
           style: { stroke: RED, lineWidth: 4, fill: null }, z: 20 };
}

const calloutGraphics = [
  { type: 'bezierCurve',
    shape: { x1: 616, y1: 416, cpx1: 616, cpy1: 372, cpx2: 664, cpy2: 368, x2: 669, y2: 404 },
    style: { stroke: RED, lineWidth: 7, fill: null, lineCap: 'round' }, z: 20 },
  { type: 'polygon', shape: { points: [[659, 403], [684, 405], [673, 420]] },
    style: { fill: RED }, z: 20 },
  ...arrow(666, 435, 672, 484, [676, 498], [666, 482], [683, 481]),
  box(657, 516, 38, 52),
  ...arrow(1343, 456, 1350, 506, [1353, 520], [1343, 504], [1361, 502]),
  box(1334, 537, 39, 54),
  ...arrow(1340, 774, 1348, 824, [1351, 838], [1340, 822], [1357, 820]),
  box(1331, 855, 38, 53),
  ...arrow(1343, 1076, 1350, 1126, [1353, 1140], [1344, 1124], [1361, 1122]),
  box(1351, 1185, 43, 42)
];

const chart = echarts.init(document.getElementById('chart'), null, { renderer: 'canvas' });
chart.setOption({
  animation: false,
  backgroundColor: '#ffffff',
  textStyle: { fontFamily: FONT },
  grid: grids,
  xAxis: xAxes,
  yAxis: yAxes,
  series,
  graphic: [...titleGraphics, ...calloutGraphics]
});
</script>
</body>
</html>
